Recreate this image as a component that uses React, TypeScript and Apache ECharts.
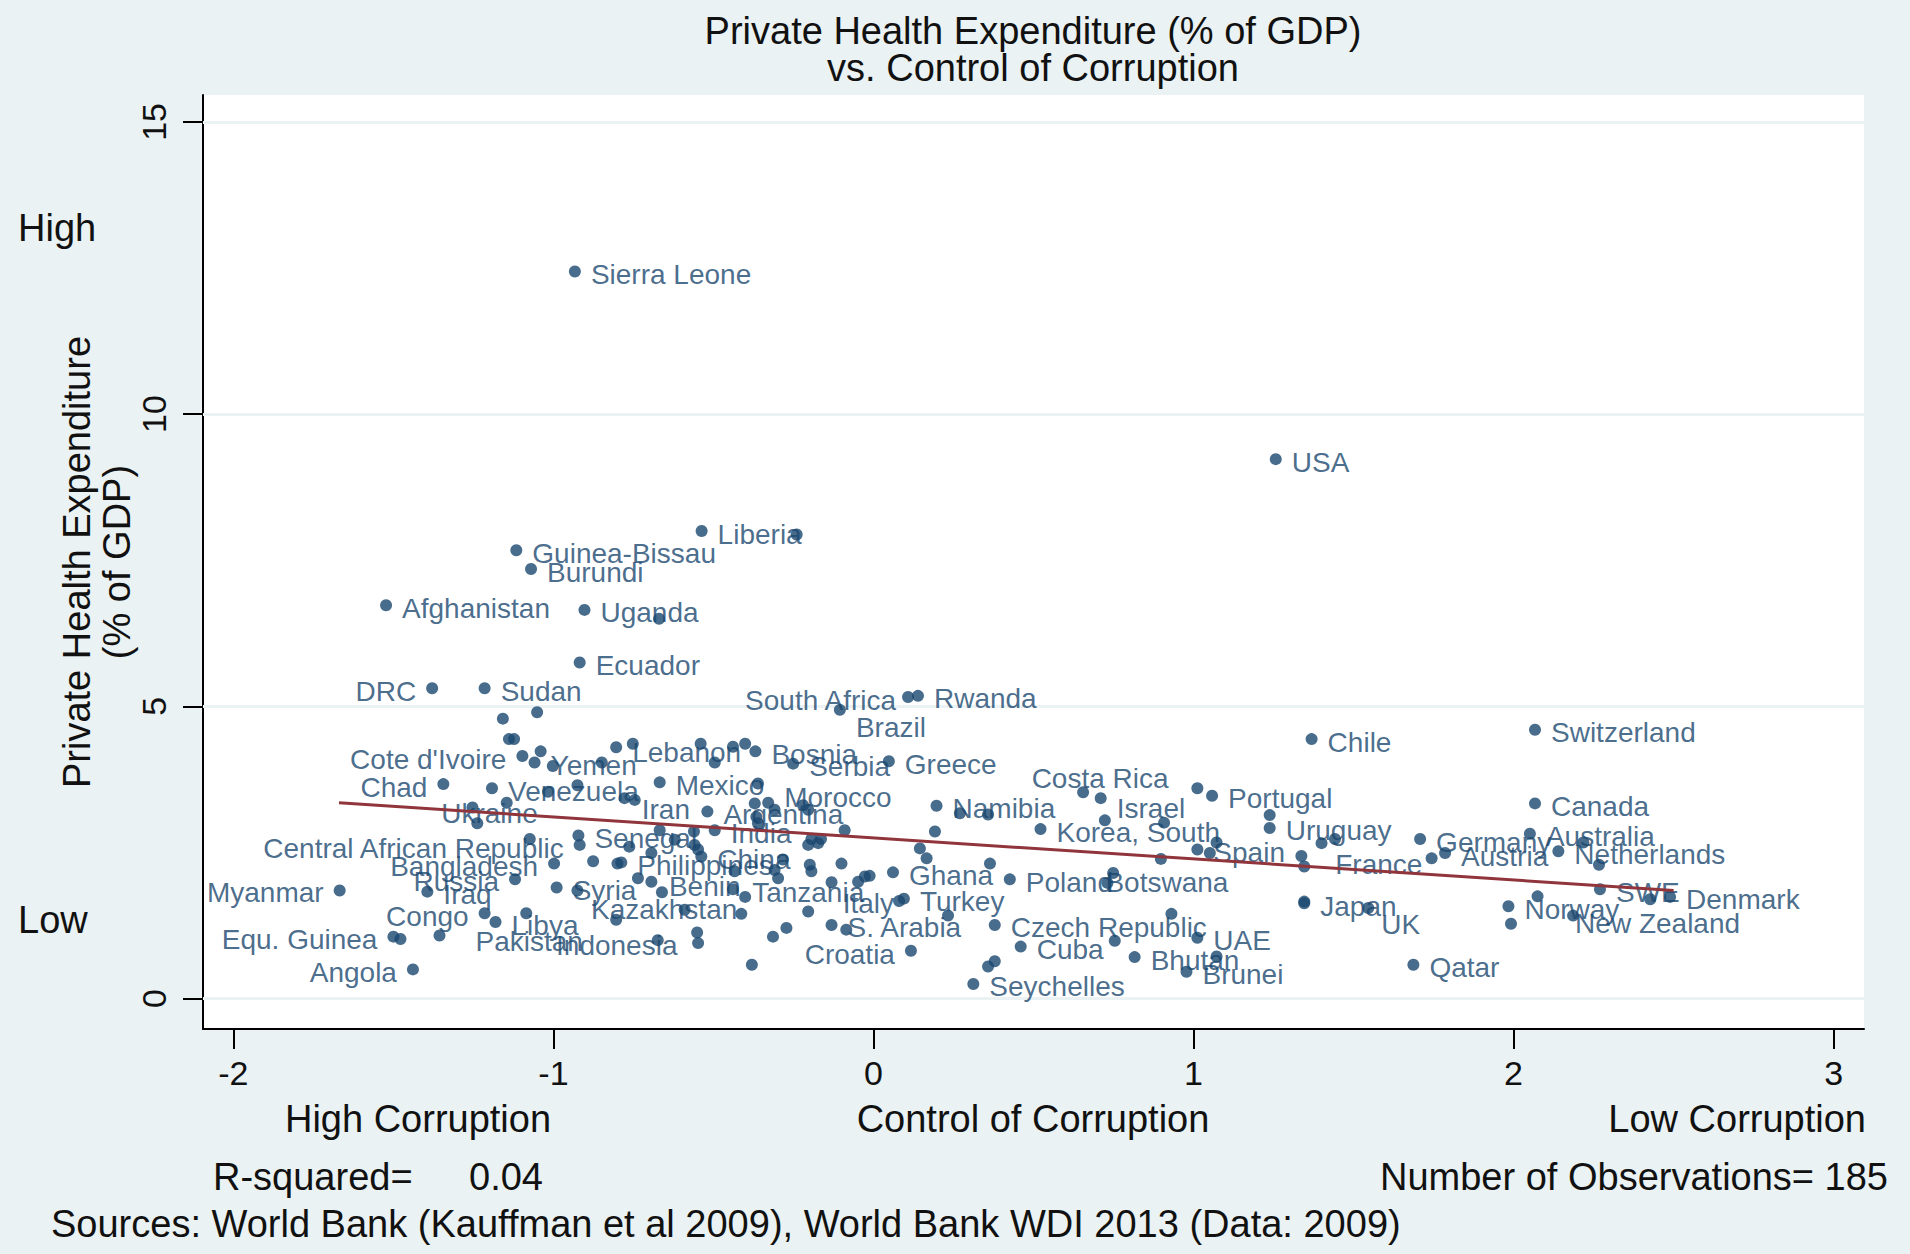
import React, { useEffect, useRef } from "react";
import * as echarts from "echarts";

// Labelled countries: Control of Corruption (x) and Private Health Expenditure % GDP (y)
const countries = [
  "Sierra Leone", "USA", "Liberia", "Guinea-Bissau", "Burundi", "Afghanistan", "Uganda", "Ecuador",
  "DRC", "Sudan", "Cote d'Ivoire", "Yemen", "Chad", "Venezuela", "Ukraine", "Central African Republic",
  "Senegal", "Bangladesh", "Russia", "Iraq", "Myanmar", "Congo", "Libya", "Equ. Guinea",
  "Pakistan", "Angola", "Indonesia", "Syria", "Kazakhstan", "Benin", "Tanzania", "Philippines",
  "China", "India", "Argentina", "Iran", "Mexico", "Morocco", "Lebanon", "Bosnia",
  "Serbia", "Greece", "Brazil", "South Africa", "Rwanda", "Namibia", "Costa Rica", "Israel",
  "Korea, South", "Portugal", "Uruguay", "Spain", "France", "Poland", "Botswana", "Chile",
  "Ghana", "Italy", "Turkey", "S. Arabia", "Croatia", "Czech Republic", "Cuba", "UAE",
  "Bhutan", "Brunei", "Seychelles", "Japan", "UK", "Qatar", "Switzerland", "Canada",
  "Germany", "Australia", "Austria", "Netherlands", "SWE", "Denmark", "Norway", "New Zealand",
];
const countryCC = [
  -0.933, 1.257, -0.537, -1.116, -1.070, -1.523, -0.903, -0.918,
  -1.379, -1.215, -1.097, -1.059, -1.344, -1.192, -1.253, -0.918,
  -0.922, -0.998, -1.120, -1.394, -1.668, -1.215, -1.181, -1.500,
  -1.356, -1.439, -0.674, -0.990, -0.413, -0.661, -0.401, -0.788,
  -0.538, -0.496, -0.519, -0.746, -0.668, -0.329, -0.804, -0.369,
  -0.251, 0.048, -0.105, 0.108, 0.139, 0.197, 0.655, 0.710,
  0.522, 1.058, 1.238, 1.012, 1.346, 0.426, 0.731, 1.369,
  0.061, 0.080, 0.095, -0.131, 0.117, 0.379, 0.460, 1.012,
  0.816, 0.978, 0.312, 1.346, 1.546, 1.687, 2.067, 2.067,
  1.708, 2.051, 1.786, 2.140, 2.270, 2.489, 1.984, 2.186,
];
const countryPHE = [
  12.44, 9.23, 8.00, 7.67, 7.35, 6.73, 6.65, 5.75,
  5.31, 5.31, 4.15, 4.04, 3.67, 3.60, 3.27, 2.63,
  2.79, 2.31, 2.04, 1.83, 1.85, 1.46, 1.31, 1.06,
  1.08, 0.50, 1.00, 1.90, 1.45, 1.82, 1.74, 2.33,
  2.43, 2.88, 3.20, 3.40, 3.70, 3.35, 4.30, 4.23,
  4.02, 4.06, 4.94, 5.16, 5.18, 3.30, 3.53, 3.43,
  2.90, 3.47, 2.92, 2.55, 2.26, 2.04, 1.98, 4.44,
  2.16, 1.67, 1.71, 1.26, 0.82, 1.26, 0.89, 1.04,
  0.71, 0.46, 0.25, 1.63, 1.55, 0.58, 4.60, 3.34,
  2.73, 2.82, 2.49, 2.52, 1.87, 1.74, 1.58, 1.42,
];

// Unlabelled observations
const otherCC = [
  -0.240, -0.670, -1.051, -1.158, -1.139, -1.123, -1.040, -1.002, -0.849, -0.925,
  -1.017, -1.146, -1.238, -1.074, -0.876, -0.800, -0.925, -1.085, -1.478, -0.752,
  -0.540, -0.496, -0.439, -0.401, -0.361, -0.778, -0.371, -0.309, -0.366, -0.361,
  -0.220, -0.204, -0.090, -0.194, -0.164, -0.668, -0.561, -0.621, -0.763, 0.192,
  0.270, 0.358, 0.145, 0.723, 0.908, 1.012, 1.238, 1.400, 1.442, 1.072,
  1.051, 0.898, 1.337, 0.749, 0.931, 0.754, 1.072, 1.346, 2.218, 2.267,
  1.744, 2.427, 2.075, 1.992, -0.694, -0.736, -0.694, -0.804, -0.590, -0.439,
  -0.551, -0.548, -0.314, -0.272, -0.380, -0.204, -0.085, 0.233, 0.358, 0.379,
  0.166, 0.364, -0.027, -0.048, -0.012, -0.131, -0.199, -0.194, -0.100, -0.309,
  -0.283, -0.298, -0.204, -0.173, -0.548, -0.559, -0.434,
];
const otherPHE = [
  7.94, 6.50, 4.90, 4.79, 4.44, 4.44, 4.23, 3.98, 4.04, 3.65,
  3.54, 3.35, 3.00, 2.73, 2.35, 2.31, 1.85, 1.46, 1.02, 4.36,
  4.36, 4.04, 4.31, 4.36, 3.68, 3.43, 3.34, 3.23, 3.11, 3.00,
  3.31, 3.23, 2.88, 2.73, 2.73, 2.88, 2.86, 2.72, 2.60, 2.86,
  3.17, 3.15, 2.57, 3.05, 3.01, 3.60, 3.14, 2.66, 2.73, 2.67,
  2.49, 2.39, 2.44, 2.15, 1.45, 0.99, 0.72, 1.66, 2.67, 2.29,
  2.40, 1.70, 1.75, 1.28, 2.49, 2.06, 2.00, 1.35, 1.52, 1.87,
  1.13, 0.95, 1.06, 1.21, 0.58, 1.49, 1.18, 1.42, 0.55, 0.64,
  2.40, 2.31, 2.09, 2.00, 2.10, 1.99, 2.29, 2.18, 2.31, 2.20,
  2.38, 2.06, 2.63, 2.66, 2.55, 2.63, 2.18,
];

// Fitted line endpoints
const fitCC = [-1.67, 2.5];
const fitPHE = [3.35, 1.85];

const xTicks = [-2, -1, 0, 1, 2, 3];
const yTicks = [0, 5, 10, 15];

// Label placement (style only): [position, dx, dy]
const labelPlacement: Record<string, [string, number, number]> = {
  "DRC": ["left", 0, 3],
  "Cote d'Ivoire": ["left", 0, 3],
  "Chad": ["left", 0, 3],
  "Central African Republic": ["left", 0, 4],
  "Bangladesh": ["left", 0, 3],
  "Russia": ["left", 0, 2],
  "Myanmar": ["left", 0, 2],
  "Congo": ["left", 0, 3],
  "Equ. Guinea": ["left", 0, 3],
  "Angola": ["left", 0, 3],
  "Kazakhstan": ["left", 12, -4],
  "South Africa": ["left", 4, 3],
  "Italy": ["left", 11, 3],
  "Croatia": ["left", 0, 4],
  "Ukraine": ["inside", 17, 6],
  "Indonesia": ["inside", -41, 5],
  "Pakistan": ["right", 20, 6],
  "Iran": ["right", -9, 10],
  "Benin": ["right", -9, -6],
  "Tanzania": ["right", -9, -4],
  "France": ["right", 15, -2],
  "Botswana": ["right", -18, 0],
  "New Zealand": ["right", -14, 8],
  "Israel": ["right", 0, 10],
  "Lebanon": ["right", 0, 5],
  "Morocco": ["right", 0, -5],
  "Brazil": ["right", 0, 18],
  "UK": ["right", -3, 16],
  "Costa Rica": ["top", 17, 6],
};

const NAVY = "#1a476f";
const FONT = '"Liberation Sans", Arial, Helvetica, sans-serif';
const BG = "#eaf2f3";

function txt(text: string, x: number, y: number, align: string, size = 38, rotation = 0) {
  return {
    type: "text",
    x,
    y,
    rotation,
    silent: true,
    style: {
      text,
      fill: "#111111",
      font: `${size}px ${FONT}`,
      fontSize: size,
      fontFamily: FONT,
      lineHeight: 40,
      textAlign: align,
      align,
      textVerticalAlign: "middle",
      verticalAlign: "middle",
    },
  };
}

export default function App() {
  const ref = useRef<HTMLDivElement>(null);

  useEffect(() => {
    if (!ref.current) return;
    const chart = echarts.init(ref.current, undefined, { renderer: "svg" });

    const labelled = countries.map((name, i) => {
      const p = labelPlacement[name] || ["right", 0, 3];
      return {
        name,
        value: [countryCC[i], countryPHE[i]],
        label: {
          show: true,
          formatter: name,
          position: p[0],
          distance: p[0] === "top" ? 0 : 10,
          offset: [p[1], p[2]],
          color: NAVY,
          fontSize: 28,
          fontFamily: FONT,
        },
      };
    });
    const others = otherCC.map((x, i) => [x, otherPHE[i]]);
    const fit = fitCC.map((x, i) => [x, fitPHE[i]]);

    chart.setOption({
      animation: false,
      backgroundColor: BG,
      textStyle: { fontFamily: FONT },
      grid: {
        left: 203,
        top: 95,
        right: 46,
        bottom: 225,
        show: true,
        backgroundColor: "#ffffff",
        borderWidth: 0,
        containLabel: false,
      },
      xAxis: {
        type: "value",
        min: -2.095,
        max: 3.095,
        axisLine: { show: true, onZero: false, lineStyle: { color: "#000", width: 2 } },
        axisTick: { show: true, customValues: xTicks, length: 20, lineStyle: { color: "#000", width: 2 } },
        axisLabel: {
          customValues: xTicks,
          fontSize: 34,
          color: "#111",
          margin: 27,
          fontFamily: FONT,
        },
        splitLine: { show: false },
      },
      yAxis: {
        type: "value",
        min: -0.52,
        max: 15.46,
        axisLine: { show: true, onZero: false, lineStyle: { color: "#000", width: 2 } },
        axisTick: { show: true, customValues: yTicks, length: 20, lineStyle: { color: "#000", width: 2 } },
        axisLabel: {
          customValues: yTicks,
          rotate: 90,
          fontSize: 34,
          color: "#111",
          margin: 32,
          fontFamily: FONT,
        },
        splitLine: { show: false },
      },
      series: [
        {
          type: "line",
          name: "grid",
          z: 1,
          symbol: "none",
          data: [],
          markLine: {
            silent: true,
            z: 1,
            symbol: ["none", "none"],
            label: { show: false },
            lineStyle: { color: BG, width: 3, type: "solid" },
            data: yTicks.map((v) => ({ yAxis: v })),
          },
        },
        {
          type: "scatter",
          name: "others",
          z: 2,
          symbol: "circle",
          symbolSize: 12,
          itemStyle: { color: NAVY },
          data: others,
        },
        {
          type: "scatter",
          name: "countries",
          z: 3,
          symbol: "circle",
          symbolSize: 12,
          itemStyle: { color: NAVY },
          data: labelled,
        },
        {
          type: "line",
          name: "fit",
          z: 4,
          symbol: "none",
          lineStyle: { color: "#90353b", width: 3 },
          data: fit,
        },
      ],
      graphic: [
        txt("Private Health Expenditure (% of GDP)", 1033, 31, "center"),
        txt("vs. Control of Corruption", 1033, 68, "center"),
        txt("Private Health Expenditure\n(% of GDP)", 97, 562, "center", 38, Math.PI / 2),
        txt("High", 18, 228, "left"),
        txt("Low", 18, 920, "left"),
        txt("High Corruption", 418, 1119, "center"),
        txt("Control of Corruption", 1033, 1119, "center"),
        txt("Low Corruption", 1866, 1119, "right"),
        txt("R-squared=", 213, 1177, "left"),
        txt("0.04", 469, 1177, "left"),
        txt("Number of Observations= 185", 1888, 1177, "right"),
        txt("Sources: World Bank (Kauffman et al 2009), World Bank WDI 2013 (Data: 2009)", 51, 1224, "left"),
      ],
    });

    return () => chart.dispose();
  }, []);

  return (
    <div
      ref={ref}
      style={{ position: "fixed", left: 0, top: 0, width: 1910, height: 1254 }}
    />
  );
}
